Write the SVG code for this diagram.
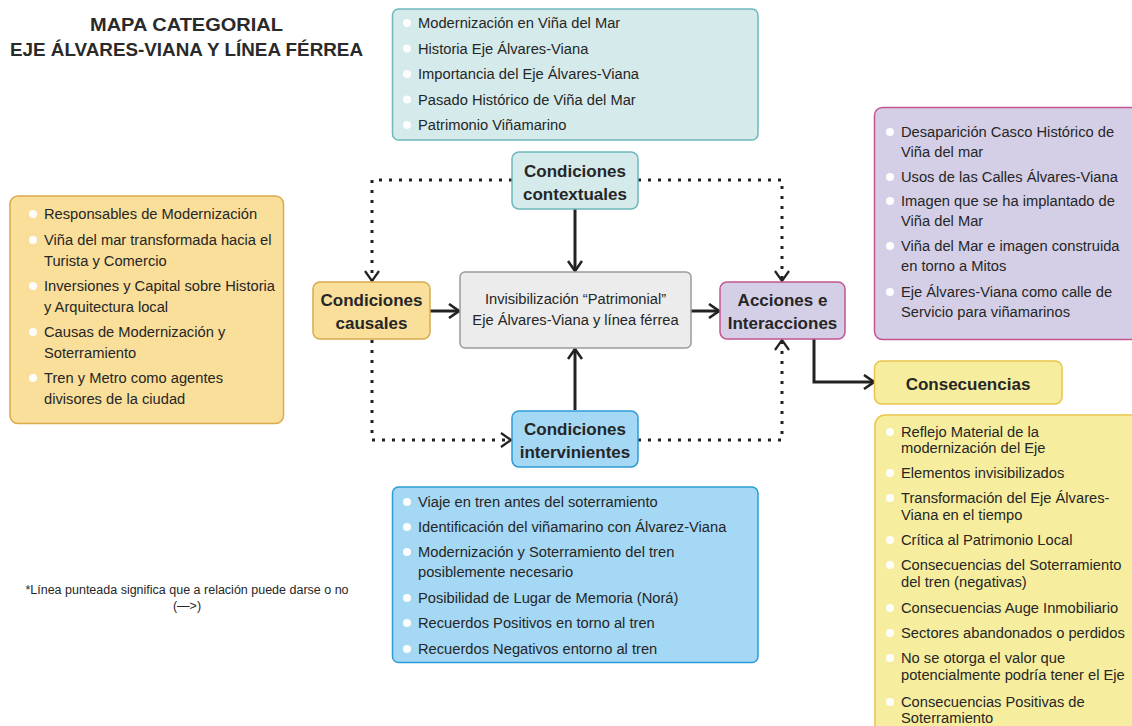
<svg xmlns="http://www.w3.org/2000/svg" width="1132" height="726" viewBox="0 0 1132 726">
<defs>
<style>
.t{font-family:"Liberation Sans",Arial,sans-serif;font-size:14.7px;fill:#262626}
.h{font-family:"Liberation Sans",Arial,sans-serif;font-size:17px;font-weight:bold;fill:#262626;text-anchor:middle}
.ttl{font-family:"Liberation Sans",Arial,sans-serif;font-size:18.5px;font-weight:bold;fill:#2a2a2a;text-anchor:middle}
.fn{font-family:"Liberation Sans",Arial,sans-serif;font-size:12.5px;fill:#262626;text-anchor:middle}
.b{fill:#fdfdfd}
.teal{fill:#d5eaeb;stroke:#6cb8bb;stroke-width:1.5}
.ora{fill:#f9df9a;stroke:#d9ab4d;stroke-width:1.5}
.pur{fill:#d4cfe6;stroke:#c25592;stroke-width:1.5}
.blu{fill:#a4d8f5;stroke:#2b9cd8;stroke-width:1.5}
.yel{fill:#f6ee9e;stroke:#e9c54a;stroke-width:1.5}
.cen{fill:#ebeceb;stroke:#9b9b9b;stroke-width:1.5}
.sol{fill:none;stroke:#222;stroke-width:3}
.dot{fill:none;stroke:#222;stroke-width:3;stroke-dasharray:3 7}
</style>
<marker id="arr" markerUnits="userSpaceOnUse" viewBox="0 0 12 16" markerWidth="12" markerHeight="16" refX="11" refY="8" orient="auto">
<path d="M1,1 L11,8 L1,15" fill="none" stroke="#222" stroke-width="2.6"/>
</marker>
<marker id="arrd" markerUnits="userSpaceOnUse" viewBox="0 0 12 16" markerWidth="12" markerHeight="16" refX="11" refY="8" orient="auto">
<path d="M1,1 L11,8 L1,15" fill="none" stroke="#222" stroke-width="2.2"/>
</marker>
</defs>
<rect width="1132" height="726" fill="#ffffff"/>

<g id="title">
<text class="ttl" x="186.5" y="31" textLength="193" lengthAdjust="spacingAndGlyphs">MAPA CATEGORIAL</text>
<text class="ttl" x="186.5" y="56" textLength="353" lengthAdjust="spacingAndGlyphs">EJE ÁLVARES-VIANA Y LÍNEA FÉRREA</text>
</g>

<g id="connectors">
<path class="sol" d="M575,209 V271" marker-end="url(#arr)"/>
<path class="sol" d="M575,410 V349" marker-end="url(#arr)"/>
<path class="sol" d="M430,311 H459" marker-end="url(#arr)"/>
<path class="sol" d="M691,311 H719" marker-end="url(#arr)"/>
<path class="sol" d="M814,339 V382 H874" marker-end="url(#arr)"/>
<path class="dot" d="M512,180 H372 V281" marker-end="url(#arrd)"/>
<path class="dot" d="M638,180 H782 V281" marker-end="url(#arrd)"/>
<path class="dot" d="M372,340 V440 H511" marker-end="url(#arrd)"/>
<path class="dot" d="M638,440 H782 V340" marker-end="url(#arrd)"/>
</g>

<g id="contextual-list">
<rect class="teal" x="392.5" y="9" width="365.5" height="131" rx="6"/>
<circle class="b" cx="407" cy="23" r="4"/><text class="t" x="418" y="28">Modernización en Viña del Mar</text>
<circle class="b" cx="407" cy="48.5" r="4"/><text class="t" x="418" y="53.5">Historia Eje Álvares-Viana</text>
<circle class="b" cx="407" cy="74" r="4"/><text class="t" x="418" y="79">Importancia del Eje Álvares-Viana</text>
<circle class="b" cx="407" cy="99.5" r="4"/><text class="t" x="418" y="104.5">Pasado Histórico de Viña del Mar</text>
<circle class="b" cx="407" cy="125" r="4"/><text class="t" x="418" y="130">Patrimonio Viñamarino</text>
</g>

<g id="causal-list">
<rect class="ora" x="10" y="196" width="273.5" height="227.5" rx="8"/>
<circle class="b" cx="33" cy="214" r="4"/><text class="t" x="44" y="219">Responsables de Modernización</text>
<circle class="b" cx="33" cy="240" r="4"/><text class="t" x="44" y="245">Viña del mar transformada hacia el</text><text class="t" x="44" y="265.5">Turista y Comercio</text>
<circle class="b" cx="33" cy="286" r="4"/><text class="t" x="44" y="291">Inversiones y Capital sobre Historia</text><text class="t" x="44" y="311.5">y Arquitectura local</text>
<circle class="b" cx="33" cy="332" r="4"/><text class="t" x="44" y="337">Causas de Modernización y</text><text class="t" x="44" y="357.5">Soterramiento</text>
<circle class="b" cx="33" cy="378" r="4"/><text class="t" x="44" y="383">Tren y Metro como agentes</text><text class="t" x="44" y="403.5">divisores de la ciudad</text>
</g>

<g id="acciones-list">
<rect class="pur" x="874.5" y="107.5" width="270" height="232" rx="8"/>
<circle class="b" cx="890" cy="132" r="4"/><text class="t" x="901" y="137">Desaparición Casco Histórico de</text><text class="t" x="901" y="157">Viña del mar</text>
<circle class="b" cx="890" cy="177" r="4"/><text class="t" x="901" y="182">Usos de las Calles Álvares-Viana</text>
<circle class="b" cx="890" cy="201" r="4"/><text class="t" x="901" y="206">Imagen que se ha implantado de</text><text class="t" x="901" y="226">Viña del Mar</text>
<circle class="b" cx="890" cy="246" r="4"/><text class="t" x="901" y="251">Viña del Mar e imagen construida</text><text class="t" x="901" y="271">en torno a Mitos</text>
<circle class="b" cx="890" cy="292" r="4"/><text class="t" x="901" y="297">Eje Álvares-Viana como calle de</text><text class="t" x="901" y="317">Servicio para viñamarinos</text>
</g>

<g id="intervinientes-list">
<rect class="blu" x="392.5" y="487" width="365.5" height="175.5" rx="6"/>
<circle class="b" cx="407" cy="502" r="4"/><text class="t" x="418" y="507">Viaje en tren antes del soterramiento</text>
<circle class="b" cx="407" cy="527" r="4"/><text class="t" x="418" y="532">Identificación del viñamarino con Álvarez-Viana</text>
<circle class="b" cx="407" cy="552" r="4"/><text class="t" x="418" y="557">Modernización y Soterramiento del tren</text><text class="t" x="418" y="577">posiblemente necesario</text>
<circle class="b" cx="407" cy="598" r="4"/><text class="t" x="418" y="603">Posibilidad de Lugar de Memoria (Norá)</text>
<circle class="b" cx="407" cy="623" r="4"/><text class="t" x="418" y="628">Recuerdos Positivos en torno al tren</text>
<circle class="b" cx="407" cy="649" r="4"/><text class="t" x="418" y="654">Recuerdos Negativos entorno al tren</text>
</g>

<g id="consecuencias-list">
<rect class="yel" x="875" y="415" width="270" height="330" rx="10"/>
<circle class="b" cx="890" cy="432" r="4"/><text class="t" x="901" y="437">Reflejo Material de la</text><text class="t" x="901" y="453">modernización del Eje</text>
<circle class="b" cx="890" cy="473" r="4"/><text class="t" x="901" y="478">Elementos invisibilizados</text>
<circle class="b" cx="890" cy="498" r="4"/><text class="t" x="901" y="503">Transformación del Eje Álvares-</text><text class="t" x="901" y="520">Viana en el tiempo</text>
<circle class="b" cx="890" cy="540" r="4"/><text class="t" x="901" y="545">Crítica al Patrimonio Local</text>
<circle class="b" cx="890" cy="565" r="4"/><text class="t" x="901" y="570">Consecuencias del Soterramiento</text><text class="t" x="901" y="587">del tren (negativas)</text>
<circle class="b" cx="890" cy="608" r="4"/><text class="t" x="901" y="613">Consecuencias Auge Inmobiliario</text>
<circle class="b" cx="890" cy="633" r="4"/><text class="t" x="901" y="638">Sectores abandonados o perdidos</text>
<circle class="b" cx="890" cy="658" r="4"/><text class="t" x="901" y="663">No se otorga el valor que</text><text class="t" x="901" y="680">potencialmente podría tener el Eje</text>
<circle class="b" cx="890" cy="702" r="4"/><text class="t" x="901" y="707">Consecuencias Positivas de</text><text class="t" x="901" y="723">Soterramiento</text>
</g>

<g id="node-contextuales">
<rect class="teal" x="512" y="152" width="126" height="57" rx="7"/>
<text class="h" x="575" y="177">Condiciones</text>
<text class="h" x="575" y="200">contextuales</text>
</g>

<g id="node-centro">
<rect class="cen" x="460" y="272" width="231" height="76" rx="5"/>
<text class="t" x="575.5" y="304" text-anchor="middle">Invisibilización “Patrimonial”</text>
<text class="t" x="575.5" y="325" text-anchor="middle">Eje Álvares-Viana y línea férrea</text>
</g>

<g id="node-causales">
<rect class="ora" x="313" y="282" width="117" height="57" rx="7"/>
<text class="h" x="371.5" y="306">Condiciones</text>
<text class="h" x="371.5" y="329">causales</text>
</g>

<g id="node-acciones">
<rect class="pur" x="720" y="282" width="125" height="57" rx="7"/>
<text class="h" x="782.5" y="306">Acciones e</text>
<text class="h" x="782.5" y="329">Interacciones</text>
</g>

<g id="node-intervinientes">
<rect class="blu" x="512" y="411" width="126" height="56" rx="7"/>
<text class="h" x="575" y="435">Condiciones</text>
<text class="h" x="575" y="458">intervinientes</text>
</g>

<g id="node-consecuencias">
<rect class="yel" x="874.5" y="361" width="187.5" height="43" rx="7"/>
<text class="h" x="968" y="390">Consecuencias</text>
</g>

<g id="footnote">
<text class="fn" x="187" y="594">*Línea punteada significa que a relación puede darse o no</text>
<text class="fn" x="187" y="610">(—&gt;)</text>
</g>
</svg>
